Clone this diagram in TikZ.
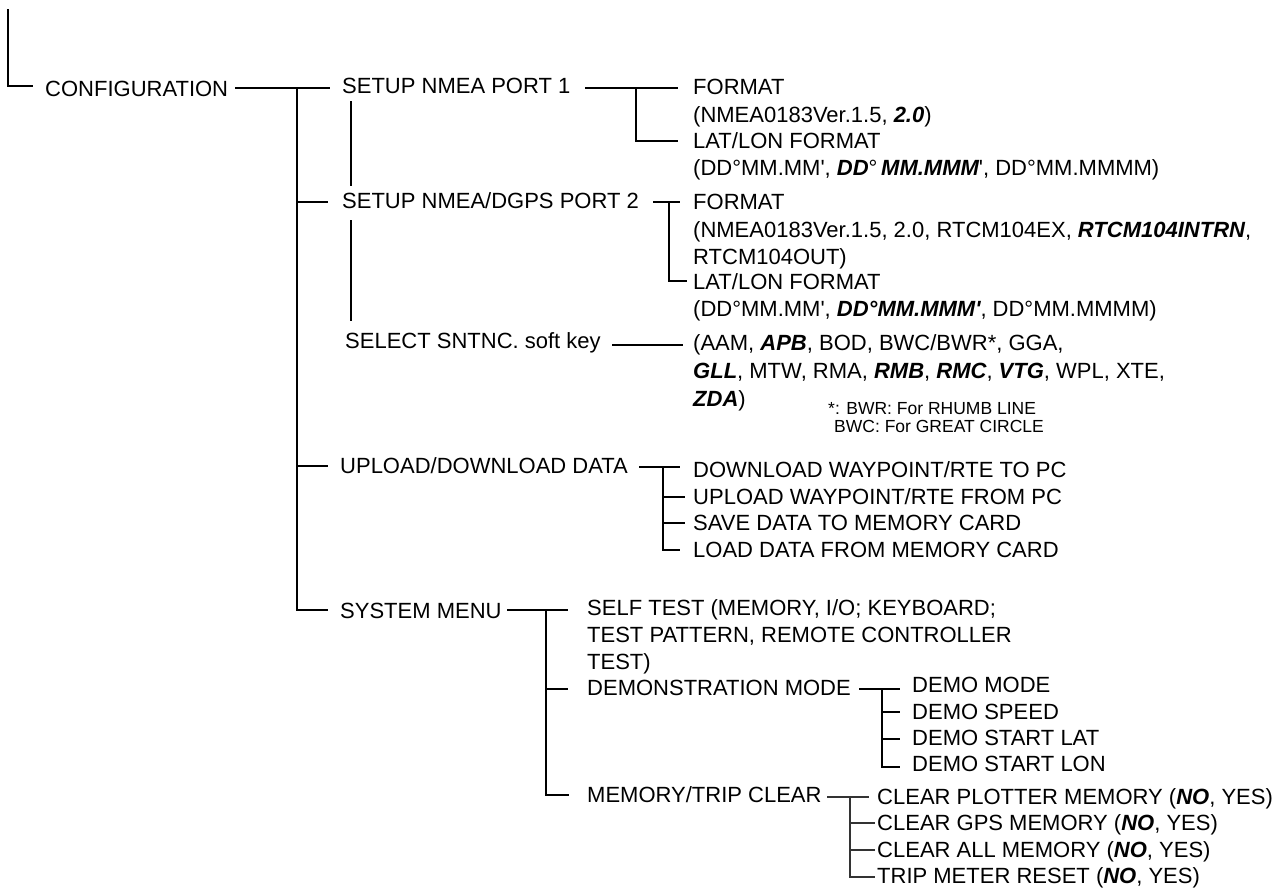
\documentclass[tikz,border=0pt]{standalone}
\usepackage{fontspec}
\newfontfamily\basef{Liberation Sans}
\newcommand{\bi}[1]{{\bfseries\itshape #1}}
\begin{document}
\begin{tikzpicture}[x=1pt,y=-1pt,
  lbl/.style={anchor=west,inner sep=0pt,text height=15.8pt,text depth=0pt,font=\basef\fontsize{22}{26}\selectfont},
  nlbl/.style={anchor=west,inner sep=0pt,text height=12.5pt,text depth=0pt,font=\basef\fontsize{17.5}{20}\selectfont},
  ln/.style={line width=2pt},
  thn/.style={line width=1.3pt},
  thnr/.style={line width=1.1pt,black!80}]
\useasboundingbox (0,0) rectangle (1284,889);

% ---- left labels
\node[lbl] (conf) at (45,89) {CONFIGURATION};
\node[lbl] (p1) at (342,86) {SETUP NMEA PORT 1};
\node[lbl] (p2) at (342,201) {SETUP NMEA/DGPS PORT 2};
\node[lbl] (sel) at (345,341) {SELECT SNTNC. soft key};
\node[lbl] (upd) at (340,466) {UPLOAD/DOWNLOAD DATA};
\node[lbl] (sys) at (340,611) {SYSTEM MENU};

% ---- port 1 / port 2 / sentences
\node[lbl] (f1) at (693,87) {FORMAT};
\node[lbl] (f1b) at (693,115) {(NMEA0183Ver.1.5, \bi{2.0})};
\node[lbl] (l1) at (693,141) {LAT/LON FORMAT};
\node[lbl] (l1b) at (693,168) {(DD°MM.MM', \bi{DD}°\,\bi{MM.MMM}', DD°MM.MMMM)};
\node[lbl] (f2) at (693,202) {FORMAT};
\node[lbl] (f2b) at (693,230) {(NMEA0183Ver.1.5, 2.0, RTCM104EX, \bi{RTCM104INTRN},};
\node[lbl] (f2c) at (693,257) {RTCM104OUT)};
\node[lbl] (l2) at (693,282) {LAT/LON FORMAT};
\node[lbl] (l2b) at (693,309) {(DD°MM.MM', \bi{DD°MM.MMM'}, DD°MM.MMMM)};
\node[lbl] (s1) at (693,343) {(AAM, \bi{APB}, BOD, BWC/BWR*, GGA,};
\node[lbl] (s2) at (693,371) {\bi{GLL}, MTW, RMA, \bi{RMB}, \bi{RMC}, \bi{VTG}, WPL, XTE,};
\node[lbl] (s3) at (693,399) {\bi{ZDA})};
\node[nlbl] (n1) at (828,408) {*: BWR: For RHUMB LINE};
\node[nlbl] (n2) at (834,426) {BWC: For GREAT CIRCLE};

% ---- upload/download
\node[lbl] (u1) at (693,470) {DOWNLOAD WAYPOINT/RTE TO PC};
\node[lbl] (u2) at (693,497) {UPLOAD WAYPOINT/RTE FROM PC};
\node[lbl] (u3) at (693,523) {SAVE DATA TO MEMORY CARD};
\node[lbl] (u4) at (693,550) {LOAD DATA FROM MEMORY CARD};

% ---- system menu
\node[lbl] (st1) at (587,608) {SELF TEST (MEMORY, I/O; KEYBOARD;};
\node[lbl] (st2) at (587,635) {TEST PATTERN, REMOTE CONTROLLER};
\node[lbl] (st3) at (587,662) {TEST)};
\node[lbl] (dm) at (587,688) {DEMONSTRATION MODE};
\node[lbl] (mt) at (587,795) {MEMORY/TRIP CLEAR};
\node[lbl] (d1) at (912,685) {DEMO MODE};
\node[lbl] (d2) at (912,712) {DEMO SPEED};
\node[lbl] (d3) at (912,738) {DEMO START LAT};
\node[lbl] (d4) at (912,764) {DEMO START LON};
\node[lbl] (c1) at (877,797) {CLEAR PLOTTER MEMORY (\bi{NO}, YES)};
\node[lbl] (c2) at (877,823) {CLEAR GPS MEMORY (\bi{NO}, YES)};
\node[lbl] (c3) at (877,850) {CLEAR ALL MEMORY (\bi{NO}, YES)};
\node[lbl] (c4) at (877,876) {TRIP METER RESET (\bi{NO}, YES)};

% ---- connectors
\coordinate (top) at (8,9);
\draw[ln] (top) -- (8,86) -- (33,86);
\coordinate (jc) at (297,88);
\draw[ln] (235,88) -- (330,88);
\draw[ln] (jc) -- (297,610) -- (328,610);
\draw[ln] (297,202) -- (328,202);
\draw[ln] (297,466) -- (328,466);
\draw[ln] (351,101) -- (351,186);
\draw[ln] (351,220) -- (351,321);

% port 1
\draw[ln] (585,88) -- (678,88);
\draw[ln] (636,88) -- (636,141) -- (678,141);
% port 2
\draw[ln] (653,202) -- (680,202);
\draw[ln] (669,202) -- (669,281) -- (687,281);
% select
\draw[ln] (612,345) -- (683,345);
% upload
\draw[ln] (639,467) -- (680,467);
\draw[ln] (663,467) -- (663,550) -- (680,550);
\draw[ln] (663,497) -- (685,497);
\draw[ln] (663,523) -- (685,523);
% system
\draw[ln] (507,610) -- (568,610);
\draw[ln] (546,610) -- (546,795) -- (569,795);
\draw[ln] (546,689) -- (568,689);
% demo
\draw[thn] (859,689) -- (900,689);
\draw[thn] (882,689) -- (882,767) -- (900,767);
\draw[thn] (882,712) -- (900,712);
\draw[thn] (882,739) -- (900,739);
% clear
\draw[thnr] (827,797) -- (869,797);
\draw[thnr] (850,797) -- (850,877) -- (875,877);
\draw[thnr] (850,823) -- (875,823);
\draw[thnr] (850,850) -- (875,850);
\end{tikzpicture}
\end{document}
